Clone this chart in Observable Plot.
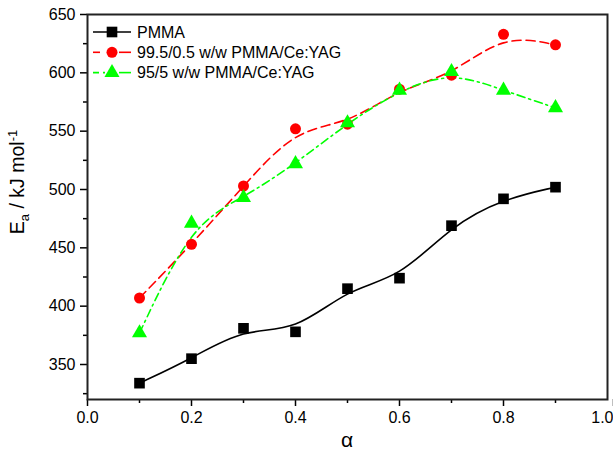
<!DOCTYPE html>
<html>
<head>
<meta charset="utf-8">
<script src="https://cdn.jsdelivr.net/npm/d3@7"></script>
<script src="https://cdn.jsdelivr.net/npm/@observablehq/plot@0.6"></script>
<style>
  html, body { margin: 0; padding: 0; background: #fff; }
  #chart { width: 613px; height: 460px; }
</style>
</head>
<body>
<div id="chart"></div>
<script>
const alpha = [0.1, 0.2, 0.3, 0.4, 0.5, 0.6, 0.7, 0.8, 0.9];
const pmma = [334, 355, 381, 378, 415, 424, 469, 492, 502];
const blend05 = [407, 453, 503, 552, 556, 586, 598, 633, 624];
const blend5 = [377, 471, 493, 522, 557, 585, 601, 585, 570];
const seriesNames = ["PMMA", "99.5/0.5 w/w PMMA/Ce:YAG", "95/5 w/w PMMA/Ce:YAG"];
const xMajor = [0, 0.2, 0.4, 0.6, 0.8];
const xLast = [1.0];
const xMinor = [0.1, 0.3, 0.5, 0.7, 0.9];
const yMajor = [350, 400, 450, 500, 550, 600, 650];
const yMinor = [325, 375, 425, 475, 525, 575, 625];

const rows = (ys) => alpha.map((a, i) => ({a, v: ys[i]}));
const dPMMA = rows(pmma), d05 = rows(blend05), d5 = rows(blend5);

const font = "'Liberation Sans', Arial, sans-serif";
const chart = Plot.plot({
  width: 613, height: 460,
  marginLeft: 87, marginRight: 6, marginTop: 14, marginBottom: 61,
  x: {domain: [0, 1]},
  y: {domain: [320, 650]},
  style: {fontFamily: font, fontSize: "16px", color: "black", background: "white", overflow: "visible"},
  marks: [
    Plot.axisX({ticks: xMinor, tickSize: 4, tickFormat: () => "", label: null, strokeWidth: 1.5}),
    Plot.axisX({ticks: xMajor, tickSize: 7, tickPadding: 5, tickFormat: d3.format(".1f"), label: null, strokeWidth: 1.5, fontSize: 16}),
    Plot.axisX({ticks: xLast, tickSize: 7, tickPadding: 5, tickFormat: d3.format(".1f"), label: null, strokeWidth: 1.5, fontSize: 16, textAnchor: "end", dx: 6}),
    Plot.axisY({ticks: yMinor, tickSize: 4, tickFormat: () => "", label: null, strokeWidth: 1.5}),
    Plot.axisY({ticks: yMajor, tickSize: 7, tickPadding: 5, label: null, strokeWidth: 1.5, fontSize: 16}),
    Plot.line(dPMMA, {x: "a", y: "v", curve: "basis", stroke: "black", strokeWidth: 1.6}),
    Plot.line(d05, {x: "a", y: "v", curve: "basis", stroke: "#ff0000", strokeWidth: 1.6, strokeDasharray: "9,5"}),
    Plot.line(d5, {x: "a", y: "v", curve: "basis", stroke: "#00ff00", strokeWidth: 1.6, strokeDasharray: "8,4,2,4"}),
    Plot.dot(dPMMA, {x: "a", y: "v", symbol: "square", r: 6, fill: "black"}),
    Plot.dot(d05, {x: "a", y: "v", symbol: "circle", r: 5.5, fill: "#ff0000"}),
    Plot.dot(d5, {x: "a", y: "v", symbol: "triangle", r: 5.6, fill: "#00ff00"}),
    Plot.frame({stroke: "#222", strokeWidth: 2})
  ]
});
document.getElementById("chart").appendChild(chart);

const svg = d3.select(chart);
// y axis label
const yl = svg.append("text")
  .attr("transform", "translate(24,182) rotate(-90)")
  .attr("text-anchor", "middle")
  .attr("font-family", font).attr("font-size", 19.5).attr("fill", "black");
yl.append("tspan").text("E");
yl.append("tspan").attr("dy", 5).attr("font-size", 13).text("a");
yl.append("tspan").attr("dy", -5).text(" / kJ mol");
yl.append("tspan").attr("dy", -7).attr("font-size", 13).text("-1");
// x axis label
svg.append("text").attr("x", 347).attr("y", 447).attr("text-anchor", "middle")
  .attr("font-family", font).attr("font-size", 21).attr("fill", "black").text("α");

// legend
const legend = [
  {name: seriesNames[0], color: "black", dash: null, sym: d3.symbolSquare, r: 6},
  {name: seriesNames[1], color: "#ff0000", dash: "7,100", sym: d3.symbolCircle, r: 5.5},
  {name: seriesNames[2], color: "#00ff00", dash: "6,4,2,100", sym: d3.symbolTriangle, r: 5.6}
];
const lg = svg.append("g");
legend.forEach((s, i) => {
  const yy = 32 + i * 20.3;
  lg.append("line").attr("x1", 93).attr("x2", 131).attr("y1", yy).attr("y2", yy)
    .attr("stroke", s.color).attr("stroke-width", 1.6)
    .attr("stroke-dasharray", s.dash);
  if (s.dash) {
    lg.append("line").attr("x1", 119).attr("x2", 131).attr("y1", yy).attr("y2", yy)
      .attr("stroke", s.color).attr("stroke-width", 1.6);
  }
  lg.append("path").attr("transform", `translate(112,${yy})`)
    .attr("d", d3.symbol(s.sym, s.r * s.r * Math.PI)()).attr("fill", s.color);
  lg.append("text").attr("x", 137).attr("y", yy + 5.8).attr("text-anchor", "start")
    .attr("font-family", font).attr("font-size", 16).attr("fill", "black").text(s.name);
});
</script>
</body>
</html>
